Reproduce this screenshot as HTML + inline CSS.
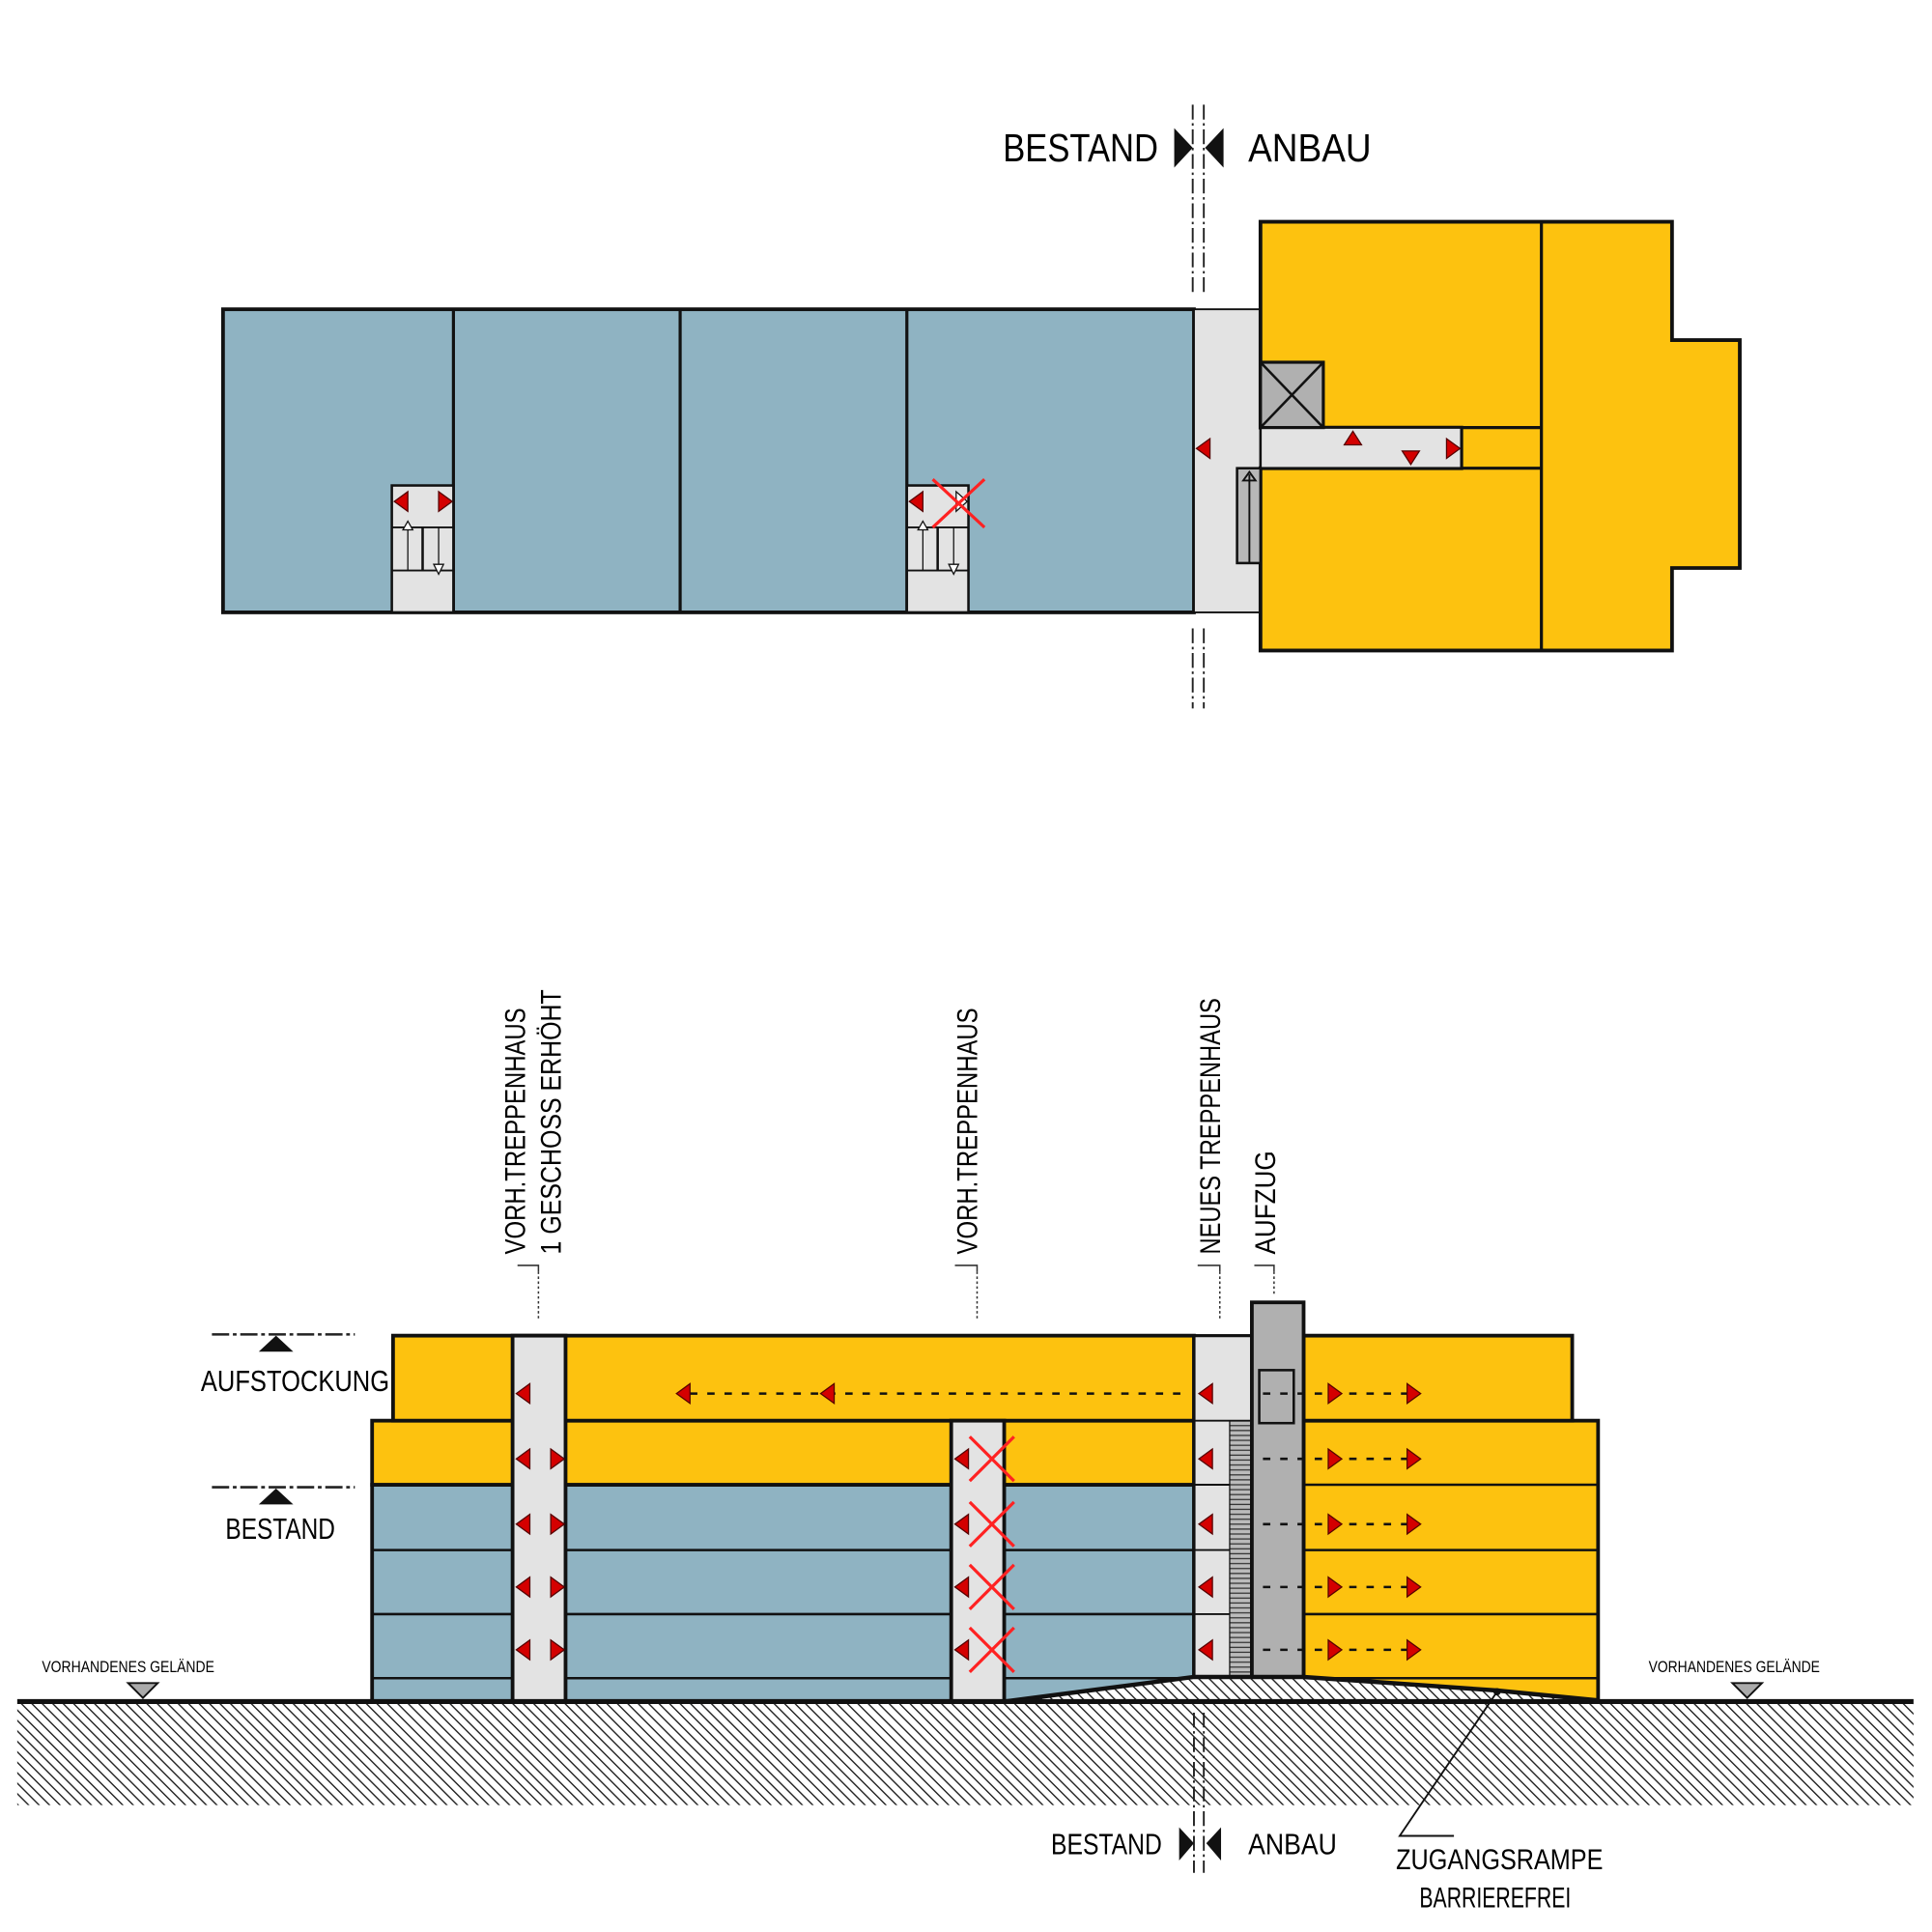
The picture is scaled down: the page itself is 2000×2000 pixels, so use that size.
<!DOCTYPE html>
<html><head><meta charset="utf-8"><style>html,body{margin:0;padding:0;background:#fff}svg{display:block}</style></head>
<body>
<svg width="2000" height="2000" viewBox="0 0 1568 1568" xmlns="http://www.w3.org/2000/svg" font-family="Liberation Sans, sans-serif">
<defs>
<pattern id="h" width="6" height="6" patternUnits="userSpaceOnUse" patternTransform="rotate(-45)">
<rect width="6" height="6" fill="#fff"/><line x1="0" y1="0" x2="0" y2="6" stroke="#222" stroke-width="2.2"/></pattern>
<pattern id="st" width="4" height="4" patternUnits="userSpaceOnUse"><rect width="4" height="4" fill="#bbb"/><line x1="0" y1="1" x2="4" y2="1" stroke="#333" stroke-width="1"/></pattern>
<g id="tl"><polygon points="5,-8 5,8 -6,0" fill="#d40000" stroke="#500" stroke-width="1"/></g>
<g id="tr"><polygon points="-5,-8 -5,8 6,0" fill="#d40000" stroke="#500" stroke-width="1"/></g>
<g id="rx"><line x1="-18" y1="-18" x2="18" y2="18" stroke="#f22" stroke-width="2.5"/><line x1="18" y1="-18" x2="-18" y2="18" stroke="#f22" stroke-width="2.5"/></g>
</defs>

<!-- ===== PLAN ===== -->
<text x="940" y="131" font-size="32" text-anchor="end" textLength="126" lengthAdjust="spacingAndGlyphs">BESTAND</text>
<text x="1013" y="131" font-size="32" textLength="100" lengthAdjust="spacingAndGlyphs">ANBAU</text>
<polygon points="953,104 953,136 968,120" fill="#111"/>
<polygon points="993,104 993,136 978,120" fill="#111"/>
<g stroke="#222" stroke-width="1.5" stroke-dasharray="12,3,2,3">
<line x1="968" y1="85" x2="968" y2="238"/><line x1="977" y1="85" x2="977" y2="238"/>
<line x1="968" y1="510" x2="968" y2="575"/><line x1="977" y1="510" x2="977" y2="575"/>
</g>
<rect x="181" y="251" width="788" height="246" fill="#8fb3c2" stroke="#111" stroke-width="3"/>
<g stroke="#111" stroke-width="2.5"><line x1="368" y1="251" x2="368" y2="497"/><line x1="552" y1="251" x2="552" y2="497"/><line x1="736" y1="251" x2="736" y2="497"/></g>
<rect x="969" y="251" width="54" height="246" fill="#e3e3e3" stroke="#111" stroke-width="1.5"/>
<polygon points="1023,180 1357,180 1357,276 1412,276 1412,461 1357,461 1357,528 1023,528 1023,380 1186,380 1186,347 1023,347" fill="#fdc20f" stroke="#111" stroke-width="3"/>
<rect x="1023" y="347" width="163" height="33" fill="#e3e3e3" stroke="#111" stroke-width="2"/>
<g stroke="#111" stroke-width="2.5"><line x1="1251" y1="180" x2="1251" y2="528"/><line x1="1186" y1="347" x2="1251" y2="347"/><line x1="1186" y1="380" x2="1251" y2="380"/></g>
<rect x="1023" y="294" width="51" height="53" fill="#b0b0b0" stroke="#111" stroke-width="2.5"/>
<line x1="1023" y1="294" x2="1074" y2="347" stroke="#111" stroke-width="2"/><line x1="1074" y1="294" x2="1023" y2="347" stroke="#111" stroke-width="2"/>
<rect x="1004" y="380" width="19" height="77" fill="#b8b8b8" stroke="#111" stroke-width="2"/>
<line x1="1014" y1="385" x2="1014" y2="457" stroke="#111" stroke-width="1.5"/>
<polygon points="1009,390 1019,390 1014,383" fill="none" stroke="#111" stroke-width="1.5"/>
<use href="#tl" x="977" y="364"/>
<polygon points="1091,361 1105,361 1098,350" fill="#d40000" stroke="#500"/>
<polygon points="1138,366 1152,366 1145,377" fill="#d40000" stroke="#500"/>
<use href="#tr" x="1179" y="364"/>
<!-- stair boxes -->
<g>
<rect x="318" y="394" width="50" height="103" fill="#e3e3e3" stroke="#111" stroke-width="2"/>
<line x1="318" y1="428" x2="368" y2="428" stroke="#111" stroke-width="1.5"/><line x1="318" y1="463" x2="368" y2="463" stroke="#111" stroke-width="1.5"/>
<line x1="343" y1="428" x2="343" y2="463" stroke="#111" stroke-width="2"/>
<line x1="331" y1="424" x2="331" y2="463" stroke="#111" stroke-width="1"/><line x1="356" y1="428" x2="356" y2="466" stroke="#111" stroke-width="1"/>
<polygon points="327,430 335,430 331,423" fill="#fff" stroke="#111"/><polygon points="352,458 360,458 356,466" fill="#fff" stroke="#111"/>
<use href="#tl" x="326" y="407"/><use href="#tr" x="361" y="407"/>
</g>
<g>
<rect x="736" y="394" width="50" height="103" fill="#e3e3e3" stroke="#111" stroke-width="2"/>
<line x1="736" y1="428" x2="786" y2="428" stroke="#111" stroke-width="1.5"/><line x1="736" y1="463" x2="786" y2="463" stroke="#111" stroke-width="1.5"/>
<line x1="761" y1="428" x2="761" y2="463" stroke="#111" stroke-width="2"/>
<line x1="749" y1="424" x2="749" y2="463" stroke="#111" stroke-width="1"/><line x1="774" y1="428" x2="774" y2="466" stroke="#111" stroke-width="1"/>
<polygon points="745,430 753,430 749,423" fill="#fff" stroke="#111"/><polygon points="770,458 778,458 774,466" fill="#fff" stroke="#111"/>
<use href="#tl" x="744" y="407"/><polygon points="776,399 776,415 785,407" fill="#fff" stroke="#111"/>
<line x1="757" y1="389" x2="799" y2="428" stroke="#f22" stroke-width="2.5"/><line x1="799" y1="389" x2="757" y2="428" stroke="#f22" stroke-width="2.5"/>
</g>

<!-- ===== SECTION ===== -->
<rect x="14" y="1383" width="1539" height="82" fill="url(#h)"/>
<!-- labels -->
<g font-size="23">
<text transform="translate(426,1018) rotate(-90)" textLength="200" lengthAdjust="spacingAndGlyphs">VORH.TREPPENHAUS</text>
<text transform="translate(455,1018) rotate(-90)" textLength="215" lengthAdjust="spacingAndGlyphs">1 GESCHOSS ERHÖHT</text>
<text transform="translate(793,1018) rotate(-90)" textLength="200" lengthAdjust="spacingAndGlyphs">VORH.TREPPENHAUS</text>
<text transform="translate(990,1018) rotate(-90)" textLength="208" lengthAdjust="spacingAndGlyphs">NEUES TREPPENHAUS</text>
<text transform="translate(1035,1018) rotate(-90)" textLength="84" lengthAdjust="spacingAndGlyphs">AUFZUG</text>
</g>
<g stroke="#333" stroke-width="1.2">
<polyline points="420,1027 437,1027 437,1032" fill="none"/><line x1="437" y1="1032" x2="437" y2="1070" stroke-dasharray="2,2"/>
<polyline points="775,1027 793,1027 793,1032" fill="none"/><line x1="793" y1="1032" x2="793" y2="1070" stroke-dasharray="2,2"/>
<polyline points="972,1027 990,1027 990,1032" fill="none"/><line x1="990" y1="1032" x2="990" y2="1070" stroke-dasharray="2,2"/>
<polyline points="1018,1027 1034,1027 1034,1032" fill="none"/><line x1="1034" y1="1032" x2="1034" y2="1052" stroke-dasharray="2,2"/>
</g>
<!-- level marks -->
<line x1="172" y1="1083" x2="288" y2="1083" stroke="#222" stroke-width="2" stroke-dasharray="14,3,3,3"/>
<polygon points="210,1097 238,1097 224,1084" fill="#111"/>
<text x="163" y="1129" font-size="24" textLength="153" lengthAdjust="spacingAndGlyphs">AUFSTOCKUNG</text>
<line x1="172" y1="1207" x2="288" y2="1207" stroke="#222" stroke-width="2" stroke-dasharray="14,3,3,3"/>
<polygon points="210,1221 238,1221 224,1208" fill="#111"/>
<text x="183" y="1249" font-size="24" textLength="89" lengthAdjust="spacingAndGlyphs">BESTAND</text>
<!-- building bestand -->
<rect x="302" y="1205" width="667" height="176" fill="#8fb3c2" stroke="#111" stroke-width="3"/>
<rect x="302" y="1153" width="667" height="52" fill="#fdc20f" stroke="#111" stroke-width="3"/>
<rect x="319" y="1084" width="650" height="69" fill="#fdc20f" stroke="#111" stroke-width="3"/>
<g stroke="#111" stroke-width="2"><line x1="302" y1="1258" x2="969" y2="1258"/><line x1="302" y1="1310" x2="969" y2="1310"/><line x1="302" y1="1362" x2="969" y2="1362"/></g>
<rect x="416" y="1084" width="43" height="297" fill="#e3e3e3" stroke="#111" stroke-width="3"/>
<rect x="772" y="1153" width="43" height="228" fill="#e3e3e3" stroke="#111" stroke-width="3"/>
<!-- anbau -->
<rect x="1058" y="1153" width="239" height="228" fill="#fdc20f" stroke="#111" stroke-width="3"/>
<rect x="1058" y="1084" width="218" height="69" fill="#fdc20f" stroke="#111" stroke-width="3"/>
<g stroke="#111" stroke-width="2"><line x1="1058" y1="1205" x2="1297" y2="1205"/><line x1="1058" y1="1258" x2="1297" y2="1258"/><line x1="1058" y1="1310" x2="1297" y2="1310"/><line x1="1058" y1="1362" x2="1297" y2="1362"/></g>
<rect x="969" y="1084" width="47" height="278" fill="#e3e3e3" stroke="#111" stroke-width="2.5"/>
<rect x="998" y="1153" width="18" height="209" fill="url(#st)" stroke="#111" stroke-width="1"/>
<g stroke="#111" stroke-width="1.5"><line x1="969" y1="1153" x2="1016" y2="1153"/><line x1="969" y1="1205" x2="998" y2="1205"/><line x1="969" y1="1258" x2="998" y2="1258"/><line x1="969" y1="1310" x2="998" y2="1310"/></g>
<rect x="1016" y="1057" width="42" height="305" fill="#b0b0b0" stroke="#111" stroke-width="3"/>
<rect x="1022" y="1112" width="28" height="43" fill="#b0b0b0" stroke="#111" stroke-width="2"/>
<!-- ground -->
<polygon points="815,1381 969,1362 1058,1362 1215,1373 1297,1381" fill="url(#h)"/>
<polyline points="815,1381 969,1361 1058,1361 1215,1372 1297,1380" fill="none" stroke="#111" stroke-width="3.5"/>
<line x1="14" y1="1381" x2="1553" y2="1381" stroke="#111" stroke-width="4"/>
<g stroke="#222" stroke-width="1.5" stroke-dasharray="12,3,2,3">
<line x1="969" y1="1390" x2="969" y2="1520"/><line x1="977" y1="1390" x2="977" y2="1520"/></g>
<!-- dashed flow lines -->
<g stroke="#111" stroke-width="2" stroke-dasharray="6,8">
<line x1="560" y1="1131" x2="960" y2="1131"/>
<line x1="1025" y1="1131" x2="1145" y2="1131"/><line x1="1025" y1="1184" x2="1145" y2="1184"/>
<line x1="1025" y1="1237" x2="1145" y2="1237"/><line x1="1025" y1="1288" x2="1145" y2="1288"/><line x1="1025" y1="1339" x2="1145" y2="1339"/>
</g>
<use href="#tl" x="555" y="1131"/><use href="#tl" x="672" y="1131"/>
<use href="#tl" x="425" y="1131"/>
<use href="#tl" x="425" y="1184"/><use href="#tr" x="452" y="1184"/>
<use href="#tl" x="425" y="1237"/><use href="#tr" x="452" y="1237"/>
<use href="#tl" x="425" y="1288"/><use href="#tr" x="452" y="1288"/>
<use href="#tl" x="425" y="1339"/><use href="#tr" x="452" y="1339"/>
<use href="#tl" x="781" y="1184"/><use href="#rx" x="805" y="1184"/>
<use href="#tl" x="781" y="1237"/><use href="#rx" x="805" y="1237"/>
<use href="#tl" x="781" y="1288"/><use href="#rx" x="805" y="1288"/>
<use href="#tl" x="781" y="1339"/><use href="#rx" x="805" y="1339"/>
<use href="#tl" x="979" y="1131"/><use href="#tl" x="979" y="1184"/><use href="#tl" x="979" y="1237"/><use href="#tl" x="979" y="1288"/><use href="#tl" x="979" y="1339"/>
<use href="#tr" x="1083" y="1131"/><use href="#tr" x="1147" y="1131"/>
<use href="#tr" x="1083" y="1184"/><use href="#tr" x="1147" y="1184"/>
<use href="#tr" x="1083" y="1237"/><use href="#tr" x="1147" y="1237"/>
<use href="#tr" x="1083" y="1288"/><use href="#tr" x="1147" y="1288"/>
<use href="#tr" x="1083" y="1339"/><use href="#tr" x="1147" y="1339"/>
<!-- gelände -->
<text x="34" y="1357" font-size="13" textLength="140" lengthAdjust="spacingAndGlyphs">VORHANDENES GELÄNDE</text>
<polygon points="104,1366 128,1366 116,1378" fill="#aaa" stroke="#111" stroke-width="1.5"/>
<text x="1338" y="1357" font-size="13" textLength="139" lengthAdjust="spacingAndGlyphs">VORHANDENES GELÄNDE</text>
<polygon points="1406,1366 1430,1366 1418,1378" fill="#aaa" stroke="#111" stroke-width="1.5"/>
<!-- bottom labels -->
<text x="943" y="1505" font-size="24" text-anchor="end" textLength="90" lengthAdjust="spacingAndGlyphs">BESTAND</text>
<text x="1013" y="1505" font-size="24" textLength="72" lengthAdjust="spacingAndGlyphs">ANBAU</text>
<polygon points="957,1483 957,1510 969,1496" fill="#111"/>
<polygon points="991,1483 991,1510 979,1496" fill="#111"/>
<circle cx="1215" cy="1373" r="3" fill="#111"/>
<polyline points="1215,1373 1136,1490 1180,1490" fill="none" stroke="#111" stroke-width="1.5"/>
<text x="1133" y="1517" font-size="23" textLength="168" lengthAdjust="spacingAndGlyphs">ZUGANGSRAMPE</text>
<text x="1152" y="1548" font-size="23" textLength="123" lengthAdjust="spacingAndGlyphs">BARRIEREFREI</text>
</svg>
</body></html>
